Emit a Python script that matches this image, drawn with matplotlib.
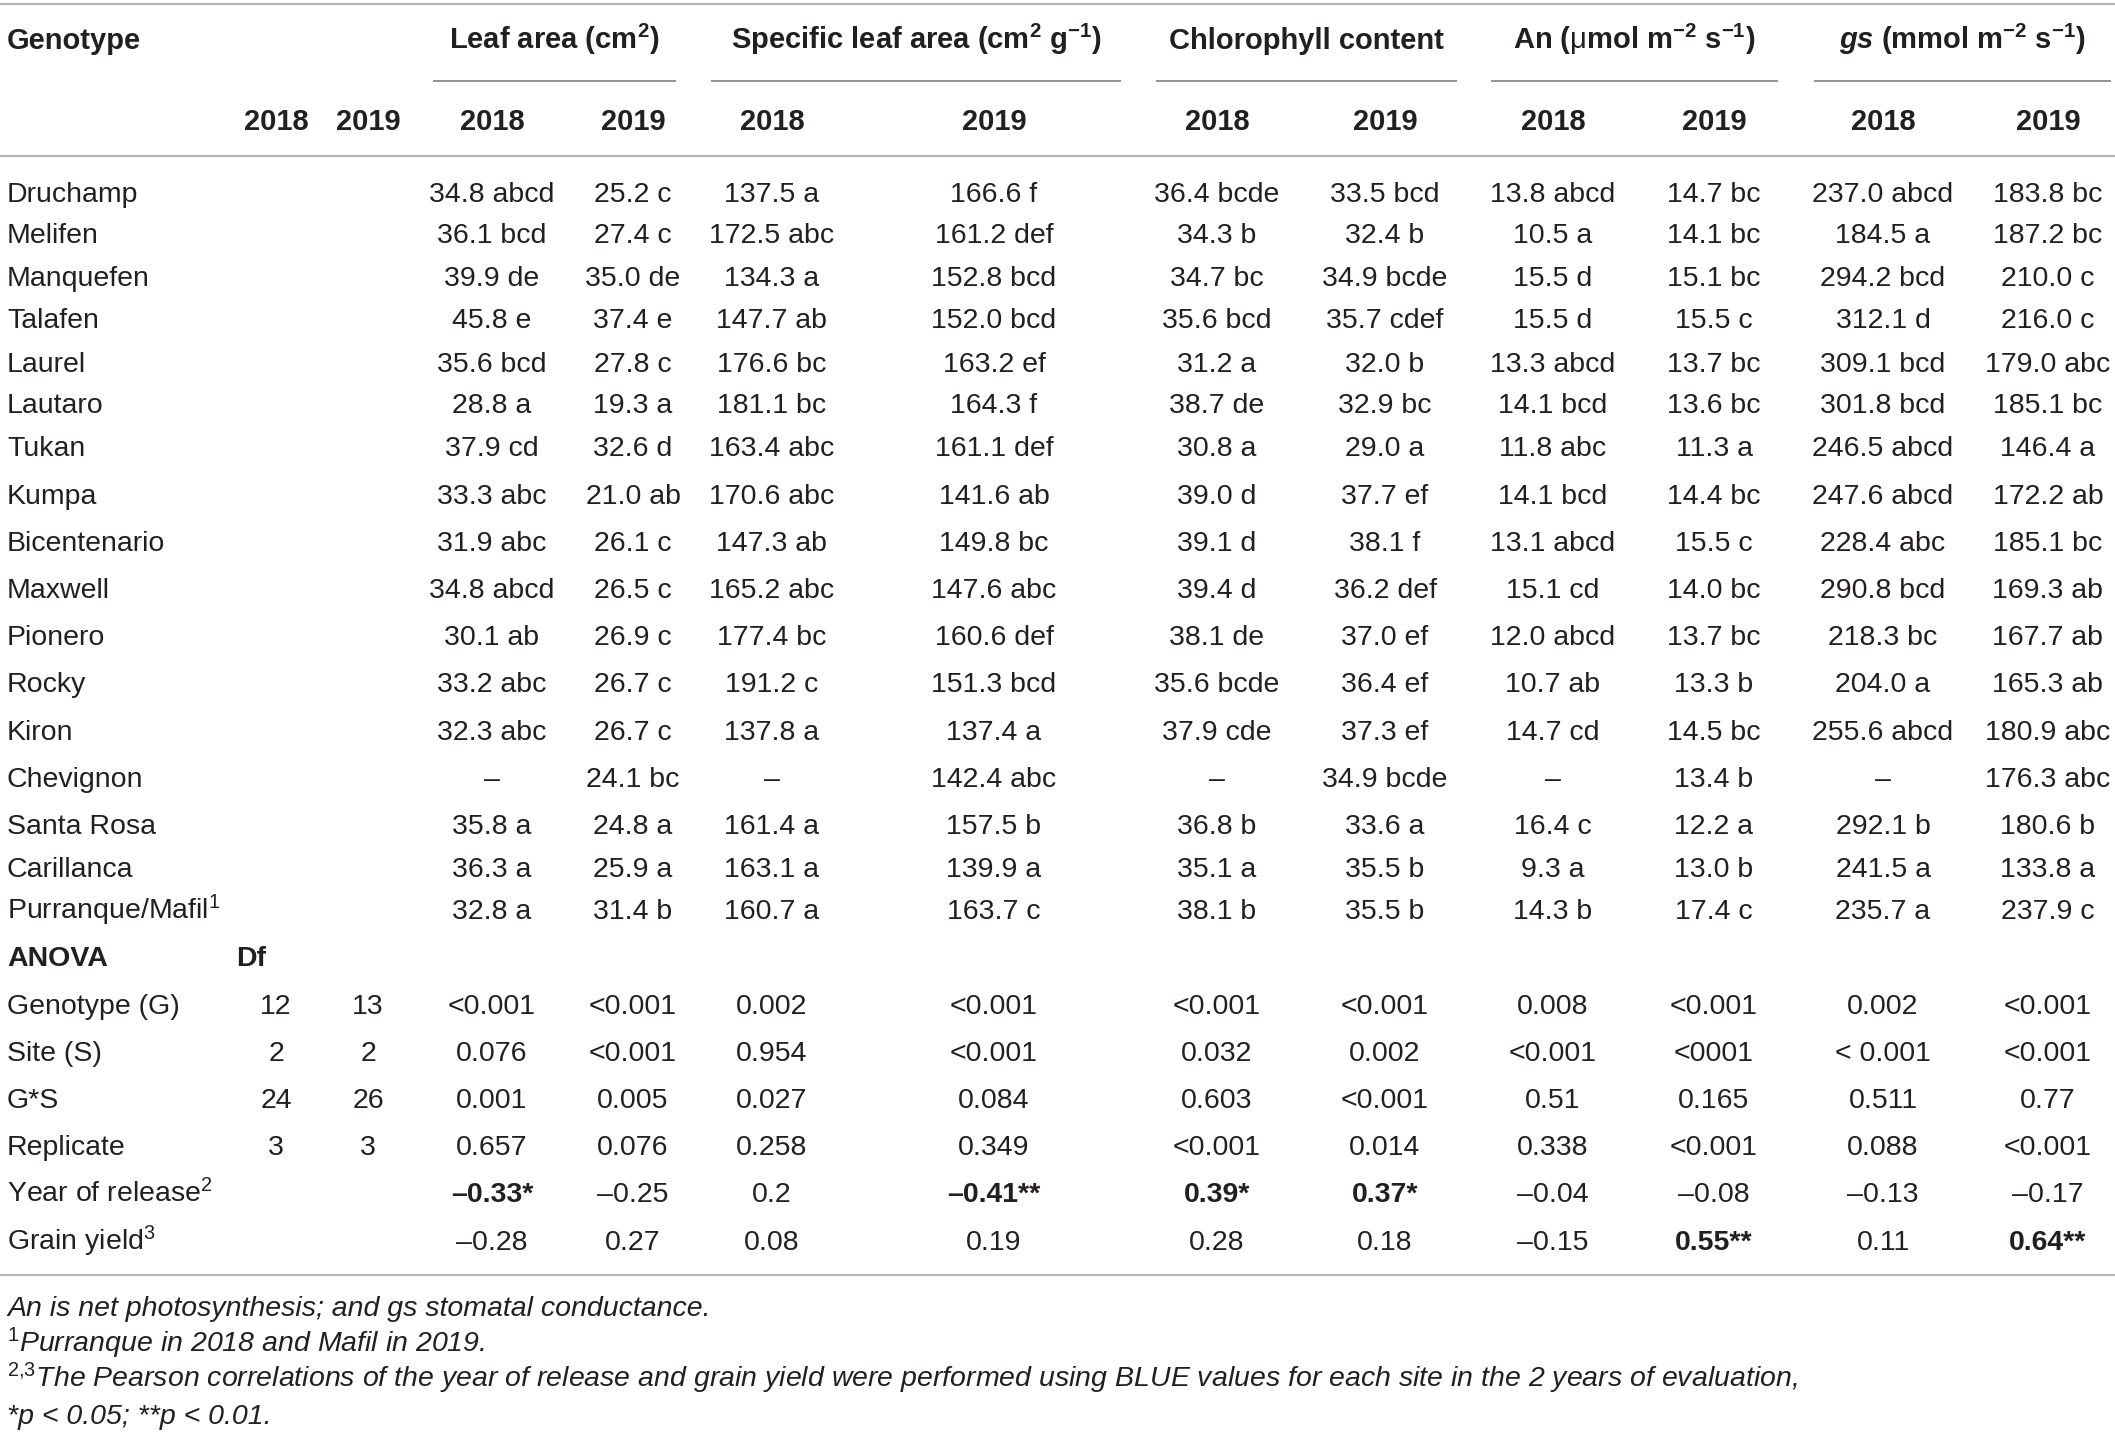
import matplotlib
matplotlib.use("Agg")
import matplotlib.pyplot as plt

plt.rcParams['font.family'] = ['Liberation Sans', 'DejaVu Sans']
plt.rcParams['mathtext.fontset'] = 'custom'
plt.rcParams['mathtext.rm'] = 'Liberation Sans'
plt.rcParams['mathtext.it'] = 'Liberation Sans:italic'
plt.rcParams['mathtext.bf'] = 'Liberation Sans:bold'
plt.rcParams['mathtext.bfit'] = 'Liberation Sans:italic:bold'
plt.rcParams['mathtext.sf'] = 'Liberation Sans'

# ---------------- data ----------------
group_headers = [r"Leaf area (cm$^{\mathbf{2}}$)",
                 r"Specific leaf area (cm$^{\mathbf{2}}$ g$^{\mathbf{-1}}$)",
                 "Chlorophyll content",
                 r"An ($\mathrm{\mu}$mol m$^{\mathbf{-2}}$ s$^{\mathbf{-1}}$)",
                 r"$\mathbfit{gs}$ (mmol m$^{\mathbf{-2}}$ s$^{\mathbf{-1}}$)"]
years = ["2018", "2019"]

genotypes = ["Druchamp", "Melifen", "Manquefen", "Talafen", "Laurel", "Lautaro",
             "Tukan", "Kumpa", "Bicentenario", "Maxwell", "Pionero", "Rocky",
             "Kiron", "Chevignon", "Santa Rosa", "Carillanca",
             r"Purranque/Mafil$^{1}$"]

leaf_area_2018 = ["34.8 abcd", "36.1 bcd", "39.9 de", "45.8 e", "35.6 bcd", "28.8 a",
                  "37.9 cd", "33.3 abc", "31.9 abc", "34.8 abcd", "30.1 ab", "33.2 abc",
                  "32.3 abc", "–", "35.8 a", "36.3 a", "32.8 a"]
leaf_area_2019 = ["25.2 c", "27.4 c", "35.0 de", "37.4 e", "27.8 c", "19.3 a",
                  "32.6 d", "21.0 ab", "26.1 c", "26.5 c", "26.9 c", "26.7 c",
                  "26.7 c", "24.1 bc", "24.8 a", "25.9 a", "31.4 b"]
sla_2018 = ["137.5 a", "172.5 abc", "134.3 a", "147.7 ab", "176.6 bc", "181.1 bc",
            "163.4 abc", "170.6 abc", "147.3 ab", "165.2 abc", "177.4 bc", "191.2 c",
            "137.8 a", "–", "161.4 a", "163.1 a", "160.7 a"]
sla_2019 = ["166.6 f", "161.2 def", "152.8 bcd", "152.0 bcd", "163.2 ef", "164.3 f",
            "161.1 def", "141.6 ab", "149.8 bc", "147.6 abc", "160.6 def", "151.3 bcd",
            "137.4 a", "142.4 abc", "157.5 b", "139.9 a", "163.7 c"]
chl_2018 = ["36.4 bcde", "34.3 b", "34.7 bc", "35.6 bcd", "31.2 a", "38.7 de",
            "30.8 a", "39.0 d", "39.1 d", "39.4 d", "38.1 de", "35.6 bcde",
            "37.9 cde", "–", "36.8 b", "35.1 a", "38.1 b"]
chl_2019 = ["33.5 bcd", "32.4 b", "34.9 bcde", "35.7 cdef", "32.0 b", "32.9 bc",
            "29.0 a", "37.7 ef", "38.1 f", "36.2 def", "37.0 ef", "36.4 ef",
            "37.3 ef", "34.9 bcde", "33.6 a", "35.5 b", "35.5 b"]
an_2018 = ["13.8 abcd", "10.5 a", "15.5 d", "15.5 d", "13.3 abcd", "14.1 bcd",
           "11.8 abc", "14.1 bcd", "13.1 abcd", "15.1 cd", "12.0 abcd", "10.7 ab",
           "14.7 cd", "–", "16.4 c", "9.3 a", "14.3 b"]
an_2019 = ["14.7 bc", "14.1 bc", "15.1 bc", "15.5 c", "13.7 bc", "13.6 bc",
           "11.3 a", "14.4 bc", "15.5 c", "14.0 bc", "13.7 bc", "13.3 b",
           "14.5 bc", "13.4 b", "12.2 a", "13.0 b", "17.4 c"]
gs_2018 = ["237.0 abcd", "184.5 a", "294.2 bcd", "312.1 d", "309.1 bcd", "301.8 bcd",
           "246.5 abcd", "247.6 abcd", "228.4 abc", "290.8 bcd", "218.3 bc", "204.0 a",
           "255.6 abcd", "–", "292.1 b", "241.5 a", "235.7 a"]
gs_2019 = ["183.8 bc", "187.2 bc", "210.0 c", "216.0 c", "179.0 abc", "185.1 bc",
           "146.4 a", "172.2 ab", "185.1 bc", "169.3 ab", "167.7 ab", "165.3 ab",
           "180.9 abc", "176.3 abc", "180.6 b", "133.8 a", "237.9 c"]

anova_terms = ["Genotype (G)", "Site (S)", "G*S", "Replicate"]
df_2018 = ["12", "2", "24", "3"]
df_2019 = ["13", "2", "26", "3"]
p_leaf_area_2018 = ["<0.001", "0.076", "0.001", "0.657"]
p_leaf_area_2019 = ["<0.001", "<0.001", "0.005", "0.076"]
p_sla_2018 = ["0.002", "0.954", "0.027", "0.258"]
p_sla_2019 = ["<0.001", "<0.001", "0.084", "0.349"]
p_chl_2018 = ["<0.001", "0.032", "0.603", "<0.001"]
p_chl_2019 = ["<0.001", "0.002", "<0.001", "0.014"]
p_an_2018 = ["0.008", "<0.001", "0.51", "0.338"]
p_an_2019 = ["<0.001", "<0001", "0.165", "<0.001"]
p_gs_2018 = ["0.002", "< 0.001", "0.511", "0.088"]
p_gs_2019 = ["<0.001", "<0.001", "0.77", "<0.001"]

corr_terms = [r"Year of release$^{2}$", r"Grain yield$^{3}$"]
r_leaf_area_2018 = ["–0.33*", "–0.28"]
r_leaf_area_2019 = ["–0.25", "0.27"]
r_sla_2018 = ["0.2", "0.08"]
r_sla_2019 = ["–0.41**", "0.19"]
r_chl_2018 = ["0.39*", "0.28"]
r_chl_2019 = ["0.37*", "0.18"]
r_an_2018 = ["–0.04", "–0.15"]
r_an_2019 = ["–0.08", "0.55**"]
r_gs_2018 = ["–0.13", "0.11"]
r_gs_2019 = ["–0.17", "0.64**"]
corr_bold = [[True, False, False, True, True, True, False, False, False, False],
             [False, False, False, False, False, False, False, True, False, True]]

footnotes = [r"An is net photosynthesis; and gs stomatal conductance.",
             r"$^{\mathit{1}}$Purranque in 2018 and Mafil in 2019.",
             r"$^{\mathit{2{,}3}}$The Pearson correlations of the year of release and grain yield were performed using BLUE values for each site in the 2 years of evaluation,",
             r"*p < 0.05; **p < 0.01."]

# ---------------- layout ----------------
W, H = 2115, 1434
TXT = "#231f20"
LINE = "#b5b5b5"
FS = 20.5
FS_HEAD = 21

data_cols = [leaf_area_2018, leaf_area_2019, sla_2018, sla_2019, chl_2018, chl_2019,
             an_2018, an_2019, gs_2018, gs_2019]
p_cols = [p_leaf_area_2018, p_leaf_area_2019, p_sla_2018, p_sla_2019, p_chl_2018,
          p_chl_2019, p_an_2018, p_an_2019, p_gs_2018, p_gs_2019]
r_cols = [r_leaf_area_2018, r_leaf_area_2019, r_sla_2018, r_sla_2019, r_chl_2018,
          r_chl_2019, r_an_2018, r_an_2019, r_gs_2018, r_gs_2019]

x_left = 7
x_df = [276, 368]
x_cols = [492, 633, 772, 994, 1217, 1385, 1553, 1714, 1883, 2048]
group_spans = [(433, 676), (711, 1121), (1156, 1457), (1491, 1778), (1814, 2111)]

y_head1 = 39
y_under = 81
y_head2 = 120
y_rows = [191.5, 233, 276.5, 318, 361.5, 403, 446.5, 494, 541, 588, 635, 682.5,
          730, 777, 824, 867, 909]
y_anova_head = 956
y_anova = [1003.5, 1051, 1098, 1145]
y_corr = [1192.5, 1240]
y_lines = [4, 156, 1275]
y_foot = [1306, 1342, 1377, 1414]
BASE = 10  # offset from visual center to baseline

fig = plt.figure(figsize=(W / 100, H / 100), dpi=100)
ax = fig.add_axes([0, 0, 1, 1])
ax.set_xlim(0, W)
ax.set_ylim(H, 0)
ax.axis("off")


def put(x, y, s, ha="center", bold=False, italic=False, fs=FS):
    ax.text(x, y + BASE, s, ha=ha, va="baseline", fontsize=fs, color=TXT,
            fontweight="bold" if bold else "normal",
            fontstyle="italic" if italic else "normal")


for yl in y_lines:
    ax.plot([0, W], [yl, yl], color=LINE, lw=1.5, solid_capstyle="butt")

# header
put(x_left, y_head1, "Genotype", ha="left", bold=True, fs=FS_HEAD)
for (x0, x1), g in zip(group_spans, group_headers):
    put((x0 + x1) / 2, y_head1, g, bold=True, fs=FS_HEAD)
    ax.plot([x0, x1], [y_under, y_under], color="#8a8a8a", lw=1.3, solid_capstyle="butt")
for i, x in enumerate(x_df):
    put(x, y_head2, years[i], bold=True, fs=FS_HEAD)
for i, x in enumerate(x_cols):
    put(x, y_head2, years[i % 2], bold=True, fs=FS_HEAD)

# genotype rows
for r, y in enumerate(y_rows):
    put(x_left, y, genotypes[r], ha="left")
    for c, x in enumerate(x_cols):
        put(x, y, data_cols[c][r])

# ANOVA
put(x_left, y_anova_head, "ANOVA", ha="left", bold=True)
put(236, y_anova_head, "Df", ha="left", bold=True)
for r, y in enumerate(y_anova):
    put(x_left, y, anova_terms[r], ha="left")
    put(x_df[0], y, df_2018[r])
    put(x_df[1], y, df_2019[r])
    for c, x in enumerate(x_cols):
        put(x, y, p_cols[c][r])

# correlations
for r, y in enumerate(y_corr):
    put(x_left, y, corr_terms[r], ha="left")
    for c, x in enumerate(x_cols):
        put(x, y, r_cols[c][r], bold=corr_bold[r][c])

# footnotes
for s, y in zip(footnotes, y_foot):
    put(x_left, y, s, ha="left", italic=True)

fig.savefig("out.png", dpi=100, facecolor="white")
